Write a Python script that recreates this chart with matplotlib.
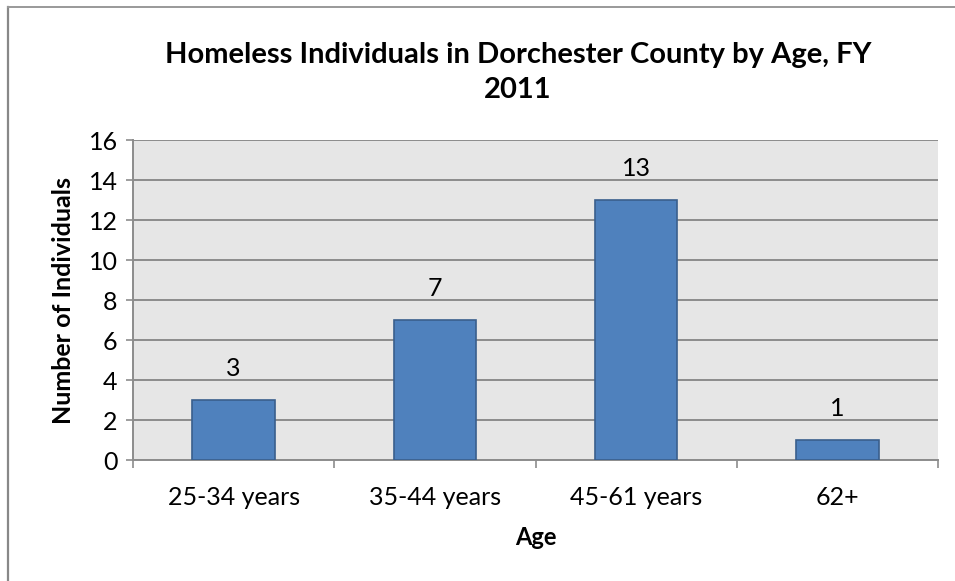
import numpy as np
import matplotlib.pyplot as plt

categories = ["25-34 years", "35-44 years", "45-61 years", "62+"]
counts = [3, 7, 13, 1]
y_ticks = [0, 2, 4, 6, 8, 10, 12, 14, 16]

plt.rcParams['font.family'] = ['Lato', 'DejaVu Sans']

fig = plt.figure(figsize=(9.55, 5.81), dpi=100)
ax = fig.add_axes([133 / 955, 1 - 460 / 581, 805 / 955, 320 / 581])

x = np.arange(len(categories))
ax.set_facecolor('#E6E6E6')
ax.bar(x, counts, width=0.41, color='#4F81BD', edgecolor='#3A5F8C',
       linewidth=1.2, zorder=3)
for xi, v in zip(x, counts):
    ax.annotate(str(v), (xi, v), xytext=(0, 23), textcoords='offset points',
                ha='center', va='center', fontsize=18, color='black')

ax.set_xlim(-0.5, len(categories) - 0.5)
ax.set_ylim(0, 16)
ax.set_yticks(y_ticks)
ax.yaxis.grid(True, color='#8C8C8C', linewidth=1.4, zorder=0)
ax.set_axisbelow(True)

# labels in the middle of each category, tick marks between them
ax.set_xticks(x)
ax.set_xticklabels(categories, fontsize=18)
ax.tick_params(axis='x', which='major', length=0, pad=19)
ax.set_xticks(np.arange(len(categories) + 1) - 0.5, minor=True)
ax.tick_params(axis='x', which='minor', length=6, width=1.2, color='#8C8C8C')
ax.tick_params(axis='y', length=5, width=1.2, color='#8C8C8C', labelsize=18, pad=6)

for side in ['top', 'right']:
    ax.spines[side].set_visible(False)
for side in ['left', 'bottom']:
    ax.spines[side].set_color('#8C8C8C')
    ax.spines[side].set_linewidth(1.4)

ax.set_xlabel("Age", fontsize=17, fontweight='bold', labelpad=12)
ax.set_ylabel("Number of Individuals", fontsize=18, fontweight='bold', labelpad=10)

fig.text(518 / 955, 1 - 55 / 581, "Homeless Individuals in Dorchester County by Age, FY",
         ha='center', va='center', fontsize=21, fontweight='bold')
fig.text(518 / 955, 1 - 90 / 581, "2011", ha='center', va='center',
         fontsize=21, fontweight='bold')

# chart frame edges
fig.add_artist(plt.Line2D([8 / 955, 8 / 955], [0, 1 - 7 / 581], color='#888888', lw=1.6,
                          transform=fig.transFigure))
fig.add_artist(plt.Line2D([8 / 955, 1], [1 - 7 / 581, 1 - 7 / 581], color='#999999', lw=1.4,
                          transform=fig.transFigure))

fig.savefig("out.png", dpi=100)
